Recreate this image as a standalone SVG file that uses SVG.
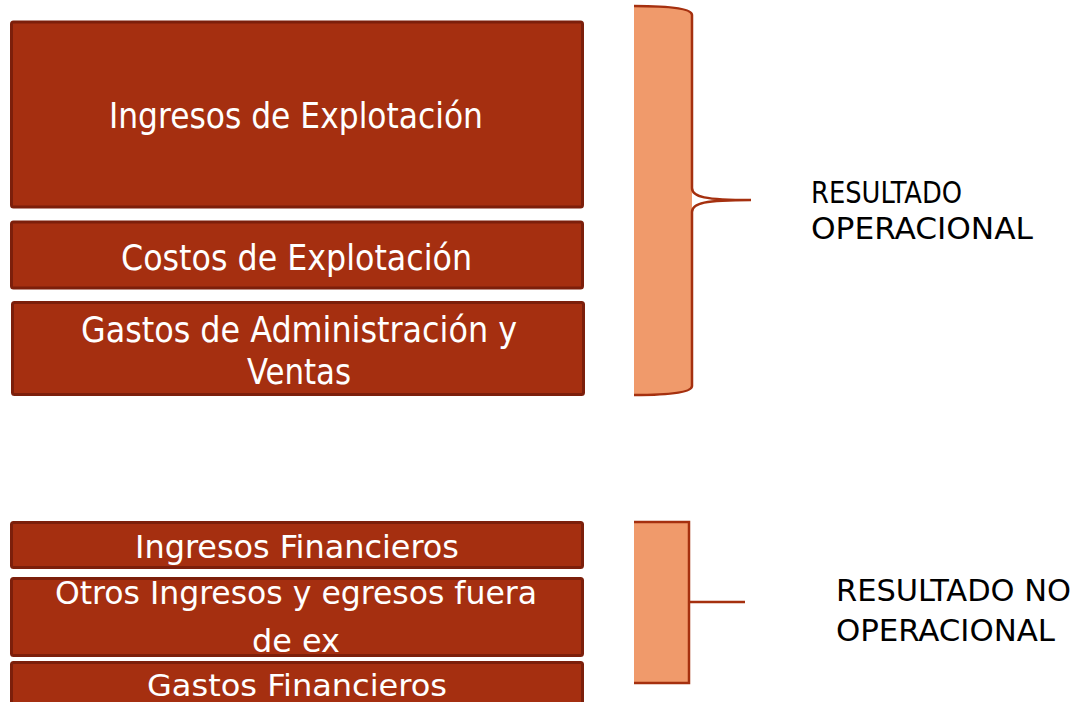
<svg xmlns="http://www.w3.org/2000/svg" width="1076" height="702" viewBox="0 0 1076 702">
<style>
.box{fill:#A52F10;stroke:#7C1F0B;stroke-width:3}
.bt{fill:#FFFFFF;font-family:"DejaVu Sans Condensed","DejaVu Sans",sans-serif;text-anchor:middle}
.lab{fill:#000000;font-family:"DejaVu Sans Condensed","DejaVu Sans",sans-serif}
.bfill{fill:#F09A6B;stroke:none}
.bline{fill:none;stroke:#A5300F;stroke-width:2.5}
</style>
<rect width="1076" height="702" fill="#FFFFFF"/>
<g id="node-ingresos-explotacion">
<rect class="box" x="11.5" y="22" width="571" height="185" rx="2"/>
<text class="bt" x="296" y="128" font-size="35" textLength="374" lengthAdjust="spacingAndGlyphs">Ingresos de Explotación</text>
</g>
<g id="node-costos-explotacion">
<rect class="box" x="11.5" y="222" width="571" height="66" rx="2"/>
<text class="bt" x="296.5" y="270" font-size="35" textLength="351" lengthAdjust="spacingAndGlyphs">Costos de Explotación</text>
</g>
<g id="node-gastos-admin">
<rect class="box" x="12.5" y="302.5" width="571" height="92" rx="2"/>
<text class="bt" x="299" y="342" font-size="35" textLength="436" lengthAdjust="spacingAndGlyphs">Gastos de Administración y</text>
<text class="bt" x="299" y="384" font-size="35" textLength="104" lengthAdjust="spacingAndGlyphs">Ventas</text>
</g>
<g id="node-ingresos-financieros">
<rect class="box" x="11.5" y="522.5" width="571" height="45" rx="2"/>
<text class="bt" x="297" y="558" font-size="32" textLength="324" lengthAdjust="spacingAndGlyphs">Ingresos Financieros</text>
</g>
<g id="node-otros-ingresos">
<rect class="box" x="11.5" y="578.5" width="571" height="77" rx="2"/>
<text class="bt" x="296" y="604" font-size="32" textLength="482" lengthAdjust="spacingAndGlyphs">Otros Ingresos y egresos fuera</text>
<text class="bt" x="296" y="652" font-size="32" textLength="88" lengthAdjust="spacingAndGlyphs">de ex</text>
</g>
<g id="node-gastos-financieros">
<rect class="box" x="11.5" y="662.5" width="571" height="60" rx="2"/>
<text class="bt" x="297" y="696" font-size="31" textLength="300" lengthAdjust="spacingAndGlyphs">Gastos Financieros</text>
</g>
<g id="connectors">
<g id="brace-operacional">
<path class="bfill" d="M634,6 C672,6 692,9 692,15 V386 C692,392 672,395 634,395 Z"/>
<path class="bline" d="M634,6 C672,6 692,9 692,15 V188 C692,197 705,200 751,200 C705,200 692,203 692,212 V386 C692,392 672,395 634,395"/>
</g>
<g id="bracket-no-operacional">
<rect class="bfill" x="634" y="522" width="55" height="161"/>
<path class="bline" d="M634,522 H689 V683 H634 M689,602 H745"/>
</g>
</g>
<g id="label-operacional">
<text class="lab" x="811" y="203" font-size="30" textLength="151" lengthAdjust="spacingAndGlyphs">RESULTADO</text>
<text class="lab" x="811" y="239" font-size="30" textLength="222" lengthAdjust="spacingAndGlyphs">OPERACIONAL</text>
</g>
<g id="label-no-operacional">
<text class="lab" x="836" y="601" font-size="30" textLength="235" lengthAdjust="spacingAndGlyphs">RESULTADO NO</text>
<text class="lab" x="836" y="641" font-size="30" textLength="219" lengthAdjust="spacingAndGlyphs">OPERACIONAL</text>
</g>
</svg>
